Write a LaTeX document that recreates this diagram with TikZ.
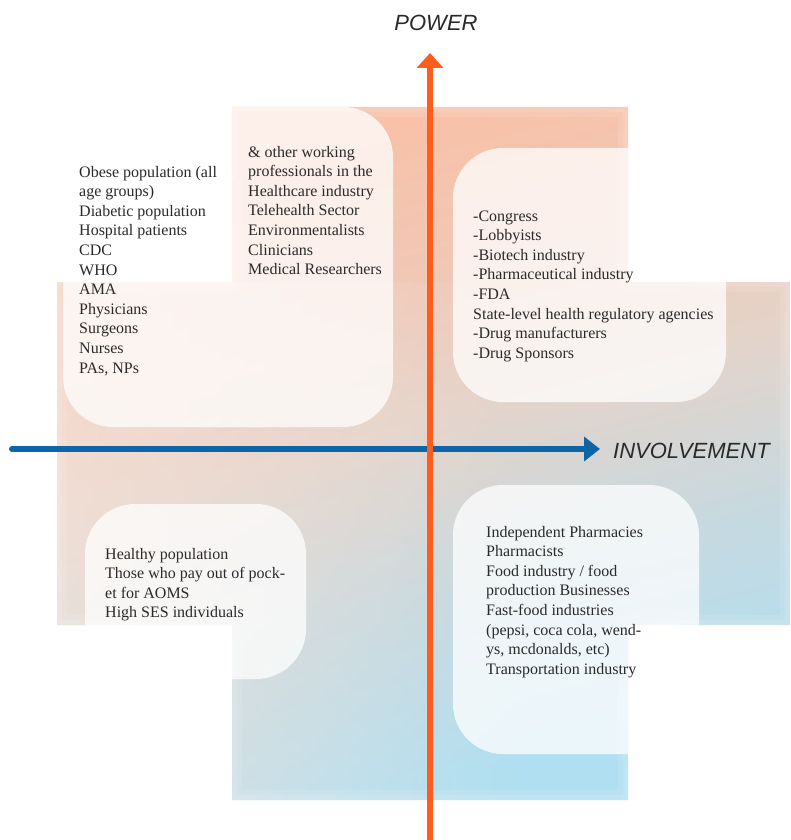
\documentclass[tikz,border=0pt]{standalone}
\usepackage{fontspec}
\setmainfont{Liberation Serif}
\newfontfamily\axisfont{Liberation Sans}
\usetikzlibrary{arrows.meta,fadings}
\definecolor{peach}{HTML}{F8C1A8}
\definecolor{softpeach}{HTML}{F0C8B6}
\definecolor{sand}{HTML}{E3D4CB}
\definecolor{mist}{HTML}{C6D9E0}
\definecolor{sky}{HTML}{B0DFF1}
\definecolor{blush}{HTML}{F8E4DA}
\definecolor{axisorange}{HTML}{FF5C1E}
\definecolor{axisblue}{HTML}{0D65A8}
\definecolor{ink}{HTML}{2B2A2A}
% warm top to cool bottom-right blend for the backdrop
\pgfdeclareverticalshading{warmcool}{100bp}{color(0bp)=(sky); color(27bp)=(sky);
  color(40bp)=(mist); color(52bp)=(sand); color(62bp)=(softpeach);
  color(73bp)=(peach); color(100bp)=(peach)}
\begin{document}
\begin{tikzpicture}[x=1pt,y=-1pt,
  panel/.style={fill=white, fill opacity=0.75, rounded corners=50pt, draw=none},
  entries/.style={anchor=base west, align=left, inner sep=0pt, text=ink,
    font=\fontsize{16}{19.6}\selectfont},
  axislabel/.style={font=\axisfont\itshape\fontsize{22}{24}\selectfont, text=ink, inner sep=0pt}]
\useasboundingbox (0,0) rectangle (790,840);

% cross-shaped backdrop
\def\crosspath{(232,107) -- (628,107) -- (628,282) -- (790,282) -- (790,625) -- (628,625)
  -- (628,800) -- (232,800) -- (232,625) -- (57,625) -- (57,282) -- (232,282) -- cycle}
\shade[shading=warmcool, shading angle=14] \crosspath;
\begin{scope}
  \clip \crosspath;
  % paler, warmer towards the left
  \fill[blush, opacity=0.6, path fading=east] (57,282) rectangle (520,800);
  % faint light rim just inside the outline
  \foreach \w in {20,10} {
    \draw[white, opacity=0.1, line width=\w pt, line join=round] \crosspath;
  }
\end{scope}

% translucent quadrant panels
\path[panel] (63,107) rectangle (393,427);
\path[panel] (453,148) rectangle (726,402);
\path[panel] (85,504) rectangle (306,679);
\path[panel] (453,485) rectangle (699,754);

% quadrant lists (anchored at the baseline of their last line)
\node[entries] (q1a) at (79,373) {Obese population (all\\age groups)\\Diabetic population\\Hospital patients\\CDC\\WHO\\AMA\\Physicians\\Surgeons\\Nurses\\PAs, NPs};
\node[entries] (q1b) at (248,274.6) {\&{} other working\\professionals in the\\Healthcare industry\\Telehealth Sector\\Environmentalists\\Clinicians\\Medical Researchers};
\node[entries] (q2) at (473,358.2) {-Congress\\-Lobbyists\\-Biotech industry\\-Pharmaceutical industry\\-FDA\\State-level health regulatory agencies\\-Drug manufacturers\\-Drug Sponsors};
\node[entries] (q3) at (105,617.8) {Healthy population\\Those who pay out of pock-\\et for AOMS\\High SES individuals};
\node[entries] (q4) at (486,674.2) {Independent Pharmacies\\Pharmacists\\Food industry / food\\production Businesses\\Fast-food industries\\(pepsi, coca cola, wend-\\ys, mcdonalds, etc)\\Transportation industry};

% axes
\coordinate (xs) at (12,449);
\coordinate (xe) at (600,449);
\coordinate (ys) at (430,840);
\coordinate (ye) at (430,53);
\draw[axisblue, line width=6pt, line cap=round, -{Triangle[length=16pt,width=24pt]}] (xs) -- (xe);
\draw[axisorange, line width=6.5pt, -{Triangle[length=15pt,width=26pt]}] (ys) -- (ye);

\node[axislabel] (power) at (436,23) {POWER};
\node[axislabel, anchor=west] (involvement) at (613,451) {INVOLVEMENT};
\end{tikzpicture}
\end{document}
